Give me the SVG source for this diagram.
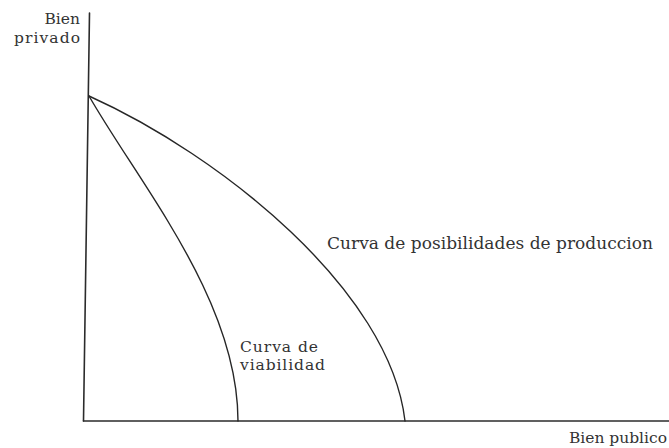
<svg xmlns="http://www.w3.org/2000/svg" width="669" height="448" viewBox="0 0 669 448">
<style>
.ax{stroke:#2b2b2b;stroke-width:1.6;fill:none;stroke-linecap:round}
.cv{stroke:#262626;stroke-width:1.4;fill:none;stroke-linecap:round}
.lb{font-family:"DejaVu Serif","Liberation Serif",serif;fill:#333333}
</style>
<rect width="669" height="448" fill="#ffffff"/>
<g id="axes">
<line class="ax" x1="89.5" y1="13" x2="83.5" y2="421"/>
<line class="ax" x1="83.5" y1="421" x2="669" y2="421"/>
</g>
<g id="connectors">
<path id="curva-viabilidad" class="cv" d="M89,96 C140,185 238,300 238,421"/>
<path id="curva-posibilidades" class="cv" d="M89,96 C220,155 390,290 405,421"/>
</g>
<g id="label-bien-privado">
<text class="lb" font-size="15.5" text-anchor="end"><tspan x="80" y="24">Bien</tspan><tspan x="80" y="42.5" textLength="66" lengthAdjust="spacing">privado</tspan></text>
</g>
<g id="label-posibilidades">
<text class="lb" x="327" y="249" font-size="17" textLength="326" lengthAdjust="spacing">Curva de posibilidades de produccion</text>
</g>
<g id="label-viabilidad">
<text class="lb" font-size="15.5"><tspan x="240" y="351.5" textLength="78" lengthAdjust="spacing">Curva de</tspan><tspan x="240" y="370" textLength="85" lengthAdjust="spacing">viabilidad</tspan></text>
</g>
<g id="label-bien-publico">
<text class="lb" x="569" y="443" font-size="15.5" textLength="98" lengthAdjust="spacing">Bien publico</text>
</g>
</svg>
